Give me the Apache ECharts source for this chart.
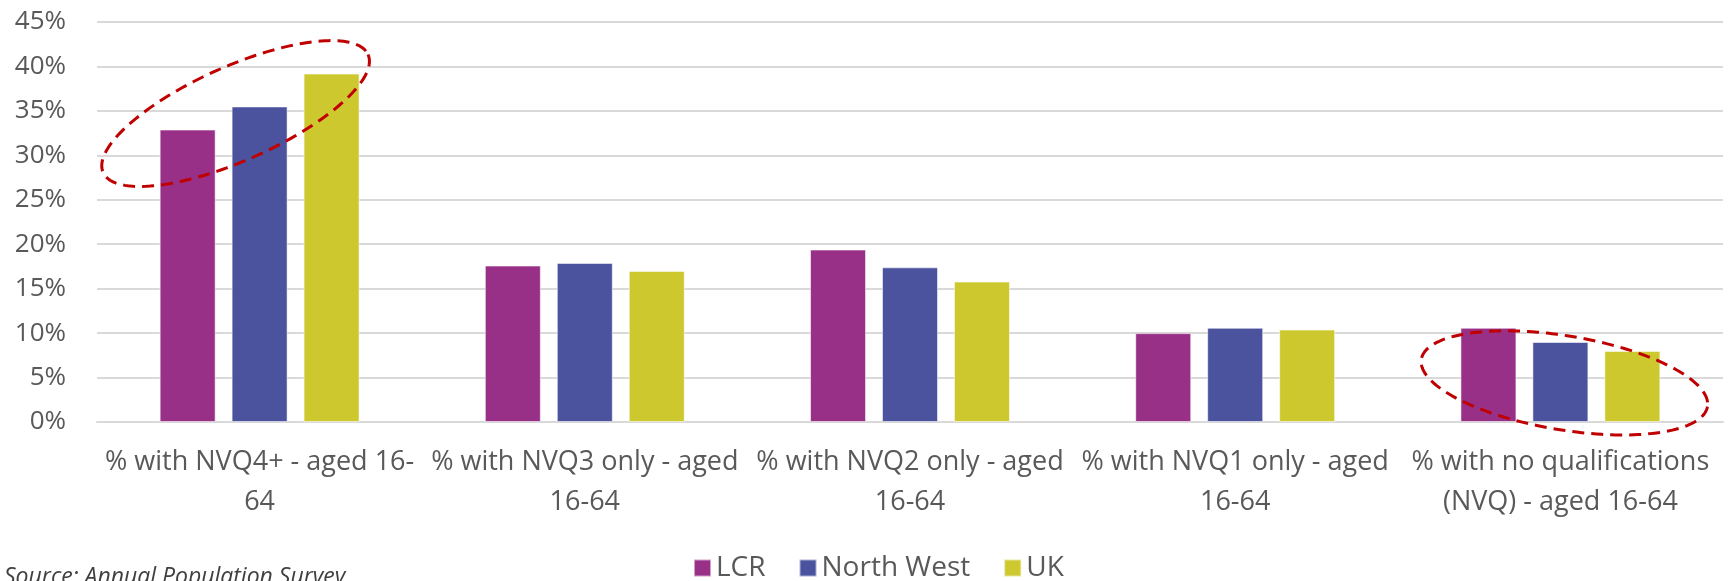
<!DOCTYPE html>
<html>
<head>
<meta charset="utf-8">
<title>Qualification levels, aged 16-64</title>
<script src="https://cdn.jsdelivr.net/npm/echarts@6/dist/echarts.min.js"></script>
<style>
  html, body { margin: 0; padding: 0; background: #fff; }
  #chart { width: 1728px; height: 581px; }
</style>
</head>
<body>
<div id="chart"></div>
<script>
// Qualification categories (line breaks as laid out under each group)
const categories = [
  '% with NVQ4+ - aged 16-\n64',
  '% with NVQ3 only - aged\n16-64',
  '% with NVQ2 only - aged\n16-64',
  '% with NVQ1 only - aged\n16-64',
  '% with no qualifications\n(NVQ) - aged 16-64'
];

// Share of residents aged 16-64, in percent
const lcr       = [32.9, 17.6, 19.4, 10.0, 10.6];
const northWest = [35.5, 17.9, 17.4, 10.6, 9.0];
const uk        = [39.2, 17.0, 15.8, 10.4, 8.0];

const seriesNames = ['LCR', 'North West', 'UK'];
const sourceNote = 'Source: Annual Population Survey';

const colors = ['#993087', '#4B529E', '#CDC82E'];
const textColor = '#595959';
const font = '"Open Sans", "Noto Sans", sans-serif';

const chart = echarts.init(document.getElementById('chart'), null, { renderer: 'canvas' });

function barSeries(name, data, color) {
  return {
    name: name,
    type: 'bar',
    data: data,
    barWidth: 56,
    barGap: '28.5%',
    itemStyle: { color: color, borderColor: 'rgba(255,255,255,0.55)', borderWidth: 1 },
    emphasis: { disabled: true }
  };
}

chart.setOption({
  animation: false,
  color: colors,
  textStyle: { fontFamily: font, color: textColor },
  grid: { left: 97, right: 5, top: 22, bottom: 159, containLabel: false },
  legend: {
    data: seriesNames,
    left: 688,
    top: 549,
    itemWidth: 17,
    itemHeight: 17,
    itemGap: 33,
    icon: 'rect',
    textStyle: { fontFamily: font, fontSize: 28, color: textColor },
    selectedMode: false
  },
  xAxis: {
    type: 'category',
    data: categories,
    axisTick: { show: false },
    axisLine: { show: true, lineStyle: { color: '#d9d9d9', width: 2 } },
    axisLabel: {
      interval: 0,
      margin: 20,
      fontFamily: font,
      fontSize: 27,
      lineHeight: 40,
      color: textColor,
      align: 'center'
    }
  },
  yAxis: {
    type: 'value',
    min: 0,
    max: 45,
    interval: 5,
    axisLine: { show: false },
    axisTick: { show: false },
    splitLine: { lineStyle: { color: '#d9d9d9', width: 2 } },
    axisLabel: {
      formatter: '{value}%',
      margin: 31,
      fontFamily: font,
      fontSize: 26,
      color: textColor
    }
  },
  series: [
    barSeries(seriesNames[0], lcr, colors[0]),
    barSeries(seriesNames[1], northWest, colors[1]),
    barSeries(seriesNames[2], uk, colors[2])
  ]
});

// Dashed highlight rings around two groups, anchored to the axes
const highlights = [
  { category: 0, value: 34.7, dx: -24, rx: 145, ry: 47, angle: -24 },
  { category: 4, value: 4.4,  dx: 4,   rx: 145, ry: 47, angle: 9.4 }
];

function ellipsePoints(cx, cy, rx, ry, angleDeg) {
  const pts = [];
  const th = angleDeg * Math.PI / 180;
  const c = Math.cos(th), s = Math.sin(th);
  const n = 180;
  for (let i = 0; i < n; i++) {
    const t = (i / n) * Math.PI * 2;
    const ex = rx * Math.cos(t), ey = ry * Math.sin(t);
    pts.push([cx + ex * c - ey * s, cy + ex * s + ey * c]);
  }
  return pts;
}

const graphics = highlights.map(function (h) {
  const p = chart.convertToPixel({ gridIndex: 0 }, [h.category, h.value]);
  return {
    type: 'polygon',
    silent: true,
    z: 100,
    shape: { points: ellipsePoints(p[0] + h.dx, p[1], h.rx, h.ry, h.angle) },
    style: { fill: 'none', stroke: '#C00000', lineWidth: 3, lineDash: [12, 7] }
  };
});

graphics.push({
  type: 'text',
  left: 4,
  top: 566,
  silent: true,
  style: {
    text: sourceNote,
    fontFamily: font,
    fontStyle: 'italic',
    fontSize: 23,
    fill: '#404040'
  }
});

chart.setOption({ graphic: graphics });
</script>
</body>
</html>
